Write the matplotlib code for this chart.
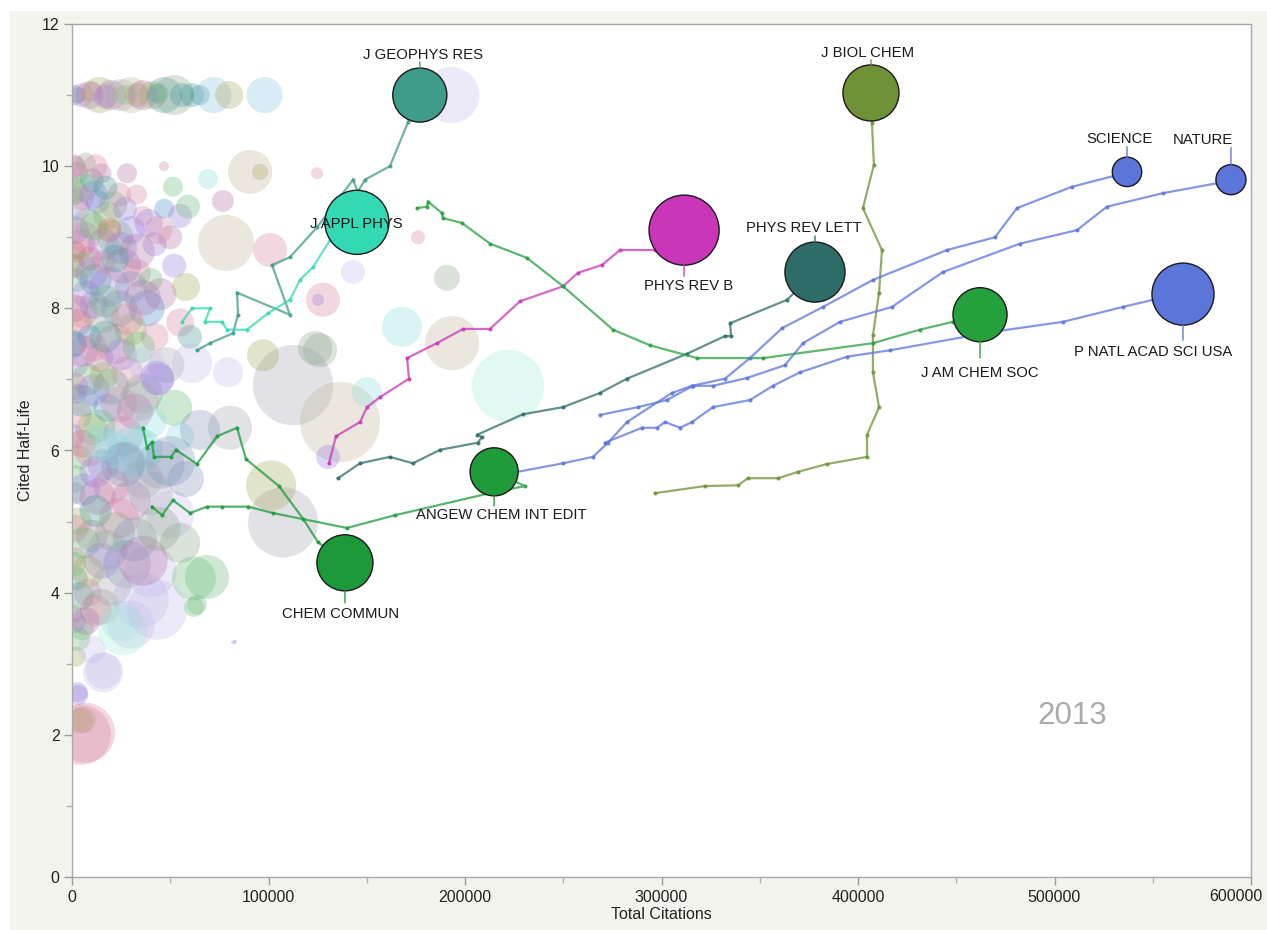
import matplotlib
matplotlib.use("Agg")
import matplotlib.pyplot as plt
from matplotlib.patches import Rectangle
from matplotlib.ticker import MultipleLocator, FuncFormatter

plt.rcParams['font.family'] = ['Liberation Sans', 'DejaVu Sans']

year_label = "2013"
x_label = "Total Citations"
y_label = "Cited Half-Life"

# ---------------- highlighted journals (current year) ----------------
journals = ["J GEOPHYS RES", "J APPL PHYS", "J BIOL CHEM", "PHYS REV B",
            "PHYS REV LETT", "J AM CHEM SOC", "SCIENCE", "NATURE",
            "P NATL ACAD SCI USA", "ANGEW CHEM INT EDIT", "CHEM COMMUN"]
cur_citations = [177000, 145000, 406600, 311500, 378100, 462100,
                 536900, 589800, 565400, 214800, 138900]
cur_halflife = [11.0, 9.21, 11.03, 9.10, 8.51, 7.91,
                9.92, 9.81, 8.20, 5.70, 4.42]
size_metric = [729, 1024, 784, 1225, 900, 729, 216, 225, 961, 576, 784]

# ---------------- trails (previous years) ----------------
trail_x_jgr = [63600, 70200, 81900, 84500, 84000, 110900, 101800, 110900, 124700,
               143000, 145500, 149100, 161800, 171000]
trail_y_jgr = [7.41, 7.51, 7.65, 7.91, 8.22, 7.91, 8.61, 8.72, 9.14,
               9.81, 9.64, 9.81, 10.00, 10.62]

trail_x_jap = [56000, 61000, 70200, 67700, 76300, 78900, 89100, 99700, 110900,
               116000, 122600, 131300]
trail_y_jap = [7.81, 8.00, 8.00, 7.81, 7.81, 7.70, 7.70, 7.93, 8.12,
               8.40, 8.58, 8.96]

trail_x_jbc = [296700, 322100, 338900, 344000, 359300, 369500, 384200, 404600, 404600,
               410700, 407600, 407600, 410700, 412200, 402500, 408100, 407100]
trail_y_jbc = [5.40, 5.50, 5.51, 5.61, 5.61, 5.70, 5.81, 5.91, 6.22,
               6.61, 7.10, 7.62, 8.22, 8.82, 9.41, 10.02, 10.61]

trail_x_prb = [130800, 134300, 146600, 150100, 156700, 171500, 170500, 185700, 199000,
               212700, 228000, 249900, 257500, 269700, 278900, 296700]
trail_y_prb = [5.82, 6.20, 6.40, 6.61, 6.75, 7.01, 7.30, 7.51, 7.71,
               7.71, 8.10, 8.31, 8.50, 8.61, 8.82, 8.82]

trail_x_prl = [135400, 146600, 161800, 173500, 187300, 206600, 208600, 206100, 229500,
               249900, 268700, 282400, 312900, 332300, 335400, 334900, 363900]
trail_y_prl = [5.61, 5.82, 5.91, 5.82, 6.01, 6.11, 6.19, 6.22, 6.51,
               6.61, 6.81, 7.01, 7.36, 7.61, 7.61, 7.79, 8.12]

trail_x_jacs = [175600, 180700, 181200, 188300, 188800, 198500, 212700, 231500, 249900,
                275300, 294100, 318100, 351700, 407600, 431500, 448300]
trail_y_jacs = [9.41, 9.43, 9.50, 9.34, 9.27, 9.20, 8.91, 8.71, 8.31,
                7.70, 7.48, 7.30, 7.30, 7.51, 7.70, 7.81]

trail_x_sci = [222900, 249900, 265100, 272800, 282400, 305300, 315500, 332300, 345000,
               361300, 382200, 407600, 445300, 469700, 480900, 508900, 529800]
trail_y_sci = [5.68, 5.82, 5.91, 6.11, 6.40, 6.81, 6.91, 7.01, 7.30,
               7.72, 8.02, 8.40, 8.82, 9.00, 9.41, 9.71, 9.86]

trail_x_nat = [268700, 288000, 302800, 316000, 326200, 343500, 362800, 372000, 390800,
               417300, 443200, 482400, 511400, 526700, 555200, 582700]
trail_y_nat = [6.50, 6.61, 6.71, 6.91, 6.91, 7.02, 7.20, 7.51, 7.81,
               8.02, 8.51, 8.91, 9.10, 9.43, 9.62, 9.76]

trail_x_pnas = [271200, 290100, 297700, 301800, 309400, 315500, 326200, 345000, 356700,
                370500, 394400, 416300, 468700, 504300, 534900, 550100]
trail_y_pnas = [6.11, 6.32, 6.32, 6.40, 6.32, 6.40, 6.61, 6.71, 6.91,
                7.10, 7.32, 7.41, 7.67, 7.81, 8.02, 8.12]

trail_x_ang = [40700, 45800, 51400, 60100, 68700, 76300, 89600, 102300, 139900,
               164400, 212700, 230500]
trail_y_ang = [5.21, 5.09, 5.30, 5.12, 5.21, 5.21, 5.21, 5.12, 4.91,
               5.09, 5.40, 5.50]

trail_x_cc = [36100, 38200, 40700, 41700, 50400, 52900, 63600, 73800, 84000,
              88500, 105300, 117600, 125200]
trail_y_cc = [6.32, 6.04, 6.12, 5.91, 5.91, 6.01, 5.81, 6.20, 6.32,
              5.88, 5.50, 5.04, 4.71]

# ---------------- background journals ----------------
bg_x = [
    # band at ~11
    1500, 3000, 5000, 9000, 10000, 14000, 17000, 20000, 25000, 27000, 30000, 33000,
    36000, 41000, 44000, 47000, 52000, 56000, 61000, 65000, 72000, 80000, 98000, 193000,
    # dense cloud
    2000, 6000, 10000, 15000, 3000, 8000, 13000, 18000, 24000, 28000,
    4000, 9000, 16000, 22000, 30000, 36000, 42000, 50000, 47000, 55000,
    2000, 7000, 12000, 19000, 26000, 33000, 40000, 45000, 38000, 52000, 58000,
    3000, 9000, 15000, 22000, 30000, 42000, 48000, 55000, 60000,
    2000, 8000, 14000, 20000, 28000, 36000, 44000, 52000,
    3000, 10000, 18000, 26000, 35000, 45000, 55000,
    4000, 12000, 20000, 30000, 40000, 50000, 58000,
    3000, 10000, 18000, 28000, 40000, 55000, 62000,
    2000, 8000, 15000, 25000, 35000, 5000, 2000, 16000, 3000, 4000, 4500, 62000, 82000,
    1000, 1500, 1000, 2500, 1200, 1800, 1000, 2000,
    500, 7000, 12000,
    1000, 5000, 11000, 17000, 21000, 27000, 33000, 39000,
    1500, 6000, 11000, 19000, 25000, 33000, 44000,
    500, 5000, 10000, 16000, 22000, 30000, 36000,
    1000, 5000, 11000, 17000, 24000, 28000,
    500, 5000, 11000, 17000, 25000, 34000, 38000,
    1000, 5000, 11000, 16000, 24000, 32000,
    500, 5000, 9000, 14000, 20000, 27000, 40000,
    1000, 6000, 13000, 16000, 24000, 36000,
    1000, 6000, 12000, 15000, 22000, 32000,
    1000, 4000, 8000, 12000, 20000, 30000,
    1000, 3000, 7000, 10000,
    # scattered
    90600, 95700, 69200, 51400, 46800, 76800, 59000, 78400, 100800, 124700, 143000,
    127700, 125200, 176100, 190800, 167900, 193400, 221900, 126200, 112500, 136400,
    150100, 130300, 123700, 97200, 107400, 101300, 43300, 79400, 61100, 80400, 65100,
    68700, 63600, 15800, 26000, 43300, 5600, 6600, 3100, 83000,
    31000, 50000, 36000, 44000, 26000, 34000, 14000,
]
bg_y = [
    11.0, 11.0, 11.0, 11.0, 11.05, 11.0, 10.98, 11.0, 11.0, 11.0, 11.0, 11.0,
    11.0, 11.0, 11.02, 11.0, 11.0, 11.0, 11.0, 11.0, 11.0, 11.0, 11.0, 11.0,
    9.9, 9.7, 9.8, 9.9, 9.4, 9.2, 9.5, 9.3, 9.6, 9.9,
    8.9, 8.7, 8.9, 9.0, 9.1, 9.3, 8.9, 9.0, 9.4, 9.3,
    8.4, 8.2, 8.4, 8.3, 8.6, 8.5, 8.4, 8.2, 8.0, 8.6, 8.3,
    7.8, 7.6, 7.9, 7.5, 7.7, 7.6, 7.2, 7.8, 7.6,
    7.2, 7.0, 7.3, 6.9, 7.1, 6.8, 7.0, 6.6,
    6.5, 6.3, 6.6, 6.2, 6.0, 5.8, 6.2,
    5.9, 5.7, 5.5, 5.3, 5.4, 5.1, 5.6,
    5.0, 4.8, 4.6, 4.4, 4.3, 4.7, 4.2,
    4.2, 4.0, 3.8, 3.6, 3.9, 3.5, 3.1, 2.9, 2.6, 2.2, 2.0, 3.8, 3.3,
    9.6, 8.8, 7.5, 6.8, 5.4, 4.5, 3.7, 10.0,
    10.0, 10.05, 10.0,
    9.65, 9.55, 9.6, 9.7, 9.45, 9.4, 9.6, 9.2,
    9.1, 9.0, 9.15, 9.1, 8.85, 8.8, 9.1,
    8.6, 8.6, 8.5, 8.65, 8.7, 8.3, 8.15,
    8.0, 7.95, 8.05, 8.1, 8.0, 7.85,
    7.5, 7.4, 7.45, 7.6, 7.35, 7.45, 7.2,
    6.9, 6.7, 6.85, 7.05, 6.65, 6.55,
    6.2, 6.1, 6.0, 6.35, 6.05, 5.85, 6.4,
    5.6, 5.45, 5.35, 5.8, 5.05, 5.6,
    4.9, 4.7, 5.15, 4.45, 4.85, 4.75,
    4.4, 3.95, 4.3, 3.75, 4.1, 3.55,
    3.6, 3.35, 3.6, 3.2,
    9.92, 9.92, 9.82, 9.71, 10.0, 9.51, 9.43, 8.92, 8.82, 9.90, 8.51,
    8.12, 8.12, 9.00, 8.43, 7.74, 7.51, 6.91, 7.41, 6.92, 6.40,
    6.82, 5.91, 7.44, 7.34, 4.99, 5.51, 7.02, 7.10, 7.23, 6.32, 6.29,
    4.22, 3.83, 2.88, 3.47, 3.76, 2.21, 2.03, 2.56, 3.31,
    6.0, 5.85, 4.45, 4.9, 5.8, 6.7, 6.1,
]
bg_size = [
    100, 64, 144, 196, 100, 324, 144, 225, 256, 100, 324, 144,
    225, 196, 100, 324, 400, 144, 144, 100, 324, 196, 324, 784,
    144, 196, 144, 100, 144, 225, 144, 196, 144, 100,
    225, 144, 256, 324, 196, 100, 144, 144, 100, 144,
    144, 196, 256, 400, 324, 196, 144, 256, 324, 144, 196,
    196, 144, 324, 400, 256, 196, 324, 196, 144,
    144, 256, 196, 324, 256, 400, 256, 324,
    196, 256, 196, 400, 484, 576, 196,
    144, 256, 324, 400, 484, 576, 324,
    196, 256, 400, 576, 676, 400, 484,
    144, 196, 324, 400, 784, 144, 100, 324, 100, 169, 900, 100, 4,
    100, 121, 144, 100, 121, 100, 81, 100,
    144, 100, 144,
    196, 144, 196, 144, 196, 144, 100, 196,
    196, 256, 196, 144, 256, 324, 196,
    144, 196, 256, 144, 196, 256, 324,
    196, 256, 196, 256, 324, 256,
    196, 256, 196, 256, 256, 256, 324,
    196, 256, 256, 196, 324, 324,
    144, 196, 256, 256, 324, 400, 256,
    196, 256, 324, 256, 400, 400,
    196, 256, 256, 324, 400, 484,
    144, 196, 256, 256, 400, 576,
    144, 144, 196, 196,
    484, 64, 100, 100, 25, 121, 144, 784, 289, 36, 144,
    289, 36, 49, 169, 400, 729, 1296, 289, 1600, 1600,
    225, 144, 289, 256, 1225, 625, 289, 225, 400, 484, 400,
    484, 100, 400, 625, 900, 169, 900, 100, 4,
    625, 625, 625, 484, 484, 400, 324,
]
bg_group = [
    'blue', 'teal', 'pink', 'purple', 'pink', 'olive', 'purple', 'mauve', 'gray', 'green', 'beige', 'olive',
    'mauve', 'olive', 'teal', 'teal', 'graygreen', 'teal', 'teal', 'teal', 'lightblue', 'olive', 'lightblue', 'lavender',
    'pink', 'green', 'teal', 'mauve', 'purple', 'graygreen', 'blue', 'olive', 'pink', 'mauve',
    'mauve', 'red', 'purple', 'green', 'purple', 'pink', 'purple', 'mauve', 'blue', 'purple',
    'green', 'purple', 'teal', 'purple', 'mauve', 'pink', 'green', 'mauve', 'blue', 'purple', 'olive',
    'red', 'blue', 'graygreen', 'pink', 'olive', 'pink', 'gray', 'pink', 'teal',
    'purple', 'green', 'mauve', 'teal', 'pink', 'graygreen', 'purple', 'green',
    'pink', 'olive', 'blue', 'mauve', 'cyan', 'grayblue', 'cyan',
    'green', 'purple', 'pink', 'mauve', 'gray', 'lavender', 'grayblue',
    'olive', 'mauve', 'gray', 'grayblue', 'lavender', 'graygreen', 'green',
    'teal', 'pink', 'graygreen', 'mint', 'lavender', 'green', 'olive', 'lavender', 'purple', 'olive', 'pink', 'green', 'purple',
    'green', 'red', 'teal', 'purple', 'green', 'pink', 'olive', 'pink',
    'mauve', 'graygreen', 'pink',
    'green', 'pink', 'purple', 'teal', 'graygreen', 'purple', 'pink', 'purple',
    'purple', 'pink', 'green', 'red', 'purple', 'mauve', 'pink',
    'red', 'green', 'purple', 'pink', 'teal', 'grayblue', 'mauve',
    'mauve', 'pink', 'purple', 'green', 'grayblue', 'pink',
    'blue', 'mauve', 'pink', 'teal', 'purple', 'green', 'lavender',
    'pink', 'teal', 'purple', 'olive', 'pink', 'mauve',
    'purple', 'red', 'pink', 'green', 'cyan', 'grayblue', 'cyan',
    'green', 'purple', 'mauve', 'grayblue', 'pink', 'gray',
    'pink', 'green', 'teal', 'purple', 'graygreen', 'grayblue',
    'green', 'teal', 'olive', 'pink', 'gray', 'lavender',
    'purple', 'green', 'mauve', 'lavender',
    'beige', 'olive', 'cyan', 'green', 'pink', 'mauve', 'green', 'beige', 'pink', 'pink', 'lavender',
    'pink', 'purple', 'pink', 'graygreen', 'cyan', 'beige', 'mint', 'graygreen', 'gray', 'beige',
    'cyan', 'purple', 'graygreen', 'olive', 'gray', 'olive', 'purple', 'lavender', 'lavender', 'gray', 'grayblue',
    'green', 'green', 'lavender', 'mint', 'lavender', 'olive', 'pink', 'purple', 'purple',
    'cyan', 'grayblue', 'mauve', 'graygreen', 'grayblue', 'gray', 'cyan',
]

palette = {
    'pink': '#d987a3', 'purple': '#9b82dc', 'green': '#6dbd7c', 'teal': '#4a9e98',
    'olive': '#a9aa62', 'gray': '#a6a6b6', 'beige': '#c4b89c', 'lightblue': '#8cc3e3',
    'mauve': '#b478aa', 'red': '#d66464', 'graygreen': '#8fa890', 'cyan': '#8fdcde',
    'mint': '#a6eadb', 'lavender': '#c6bfea', 'grayblue': '#8797bb', 'blue': '#4a8fd0',
}

hl_colors = ['#3f9c8a', '#33d9b2', '#6f9236', '#c936ba', '#2e6c68', '#24a03c',
             '#5b75db', '#5b75db', '#5b75db', '#1f9b3a', '#1c9a3a']

trails_x = [trail_x_jgr, trail_x_jap, trail_x_jbc, trail_x_prb, trail_x_prl, trail_x_jacs,
            trail_x_sci, trail_x_nat, trail_x_pnas, trail_x_ang, trail_x_cc]
trails_y = [trail_y_jgr, trail_y_jap, trail_y_jbc, trail_y_prb, trail_y_prl, trail_y_jacs,
            trail_y_sci, trail_y_nat, trail_y_pnas, trail_y_ang, trail_y_cc]

# label layout (pixel offsets from bubble centre): text dx, baseline dy, ha, connector (start, end)
label_layout = [
    (3, 36, 'center', (27, 33)),
    (-1, -6, 'center', None),
    (-3, 36, 'center', (28, 33)),
    (4, -60, 'center', (-35, -46)),
    (-11, 40, 'center', (30, 36)),
    (0, -62, 'center', (-27, -43)),
    (-7, 29, 'center', (14, 25)),
    (2, 36, 'right', (15, 32)),
    (-30, -62, 'center', (-31, -46)),
    (7, -47, 'center', (-24, -34)),
    (-4, -55, 'center', (-28, -40)),
]

SCALE = 2.08  # size metric -> marker area (pt^2)
X_MAX = 600000

fig = plt.figure(figsize=(12.67, 9.30), dpi=100, facecolor='white')
bg_rect = Rectangle((10 / 1267, 0), 1, 919 / 930, transform=fig.transFigure,
                    facecolor='#f4f4ef', edgecolor='none', zorder=-10)
fig.patches.append(bg_rect)
ax = fig.add_axes([72 / 1267, 53 / 930, (1251 - 72) / 1267, (877 - 24) / 930])
ax.set_zorder(1)
ax.set_facecolor('white')

# background bubbles
ax.scatter(bg_x, bg_y, s=[v * SCALE for v in bg_size],
           c=[palette[g] for g in bg_group], alpha=0.33, linewidths=0, zorder=1)

# trails
for tx, ty, cx, cy, col in zip(trails_x, trails_y, cur_citations, cur_halflife, hl_colors):
    ax.plot(list(tx) + [cx], list(ty) + [cy], color=col, alpha=0.75, lw=1.6,
            marker='o', markersize=2.0, zorder=3, solid_joinstyle='miter')

# highlighted bubbles
ax.scatter(cur_citations, cur_halflife, s=[v * SCALE for v in size_metric],
           c=hl_colors, edgecolors='#1a1a1a', linewidths=1.0, zorder=4)

# labels and connectors
for name, cx, cy, col, (dx, dy, ha, conn) in zip(journals, cur_citations, cur_halflife,
                                                  hl_colors, label_layout):
    if conn is not None:
        a, b = conn
        ax.annotate('', xy=(cx, cy), xycoords='data', xytext=(0, b),
                    textcoords='offset pixels',
                    arrowprops=dict(arrowstyle='-', color=col, lw=1.2, alpha=0.8,
                                    shrinkA=0, shrinkB=abs(a) * 0.72),
                    zorder=5)
    ax.annotate(name, xy=(cx, cy), xycoords='data', xytext=(dx, dy),
                textcoords='offset pixels', ha=ha, va='baseline',
                fontsize=10.7, color='#1a1a1a', zorder=6)

ax.text(0.848, 0.179, year_label, transform=ax.transAxes, ha='center',
        va='baseline', fontsize=22.5, color='#aaaaaa')

ax.set_xlim(0, X_MAX)
ax.set_ylim(0, 12)
ax.xaxis.set_major_locator(MultipleLocator(100000))
ax.xaxis.set_minor_locator(MultipleLocator(50000))
ax.yaxis.set_major_locator(MultipleLocator(2))
ax.yaxis.set_minor_locator(MultipleLocator(1))
# last x label is drawn separately (shifted left so it stays inside the figure)
ax.xaxis.set_major_formatter(FuncFormatter(lambda v, p: '' if v >= X_MAX else f'{int(v)}'))
ax.tick_params(which='major', direction='out', length=6, width=1, color='#9a9a9a',
               labelsize=11.5, labelcolor='#222222', pad=3)
ax.tick_params(which='minor', direction='out', length=4, width=1, color='#b0b0b0')
for sp in ax.spines.values():
    sp.set_color('#a8a8a8')
    sp.set_linewidth(1.0)
ax.annotate(f'{X_MAX}', xy=(X_MAX, 0), xycoords='data', xytext=(11, -12),
            textcoords='offset pixels', ha='right', va='top', fontsize=11.5,
            color='#222222', annotation_clip=False)

ax.set_xlabel(x_label, fontsize=11.5, color='#222222', labelpad=2)
ax.set_ylabel(y_label, fontsize=11.5, color='#222222', labelpad=6)

fig.savefig('out.png', dpi=100, facecolor=fig.get_facecolor())
